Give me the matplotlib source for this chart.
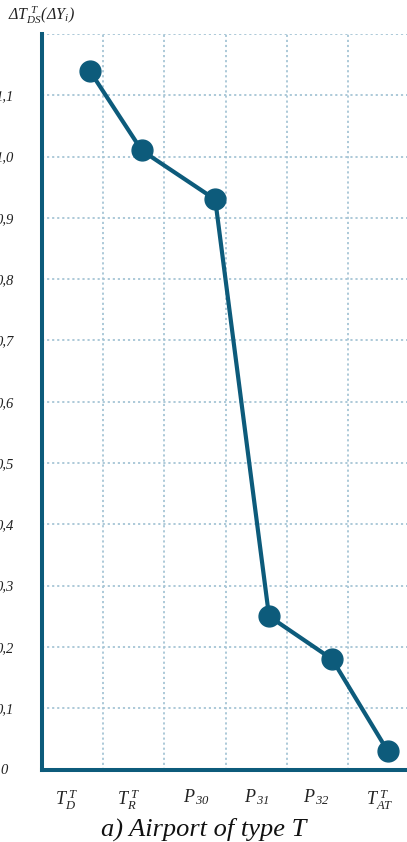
import matplotlib
matplotlib.use("Agg")
import matplotlib.pyplot as plt

# --- data -------------------------------------------------------------
categories = [r"$T_{D}^{\;T}$", r"$T_{R}^{\;T}$", r"$P_{\,30}$", r"$P_{\,31}$", r"$P_{\,32}$", r"$T_{AT}^{\;T}$"]
label_pos = [0.41, 1.42, 2.53, 3.51, 4.48, 5.52]
x_vals = [0.78, 1.63, 2.83, 3.71, 4.74, 5.65]
y_vals = [1.14, 1.01, 0.93, 0.25, 0.18, 0.03]
y_ticks = [0.0, 0.1, 0.2, 0.3, 0.4, 0.5, 0.6, 0.7, 0.8, 0.9, 1.0, 1.1]
y_tick_labels = ["0", "0,1", "0,2", "0,3", "0,4", "0,5", "0,6", "0,7", "0,8", "0,9", "1,0", "1,1"]
x_grid = [1, 2, 3, 4, 5, 6]
y_grid = [0.1, 0.2, 0.3, 0.4, 0.5, 0.6, 0.7, 0.8, 0.9, 1.0, 1.1, 1.2]
y_title = r"$\Delta T_{DS}^{\;T}(\Delta Y_{i})$"
caption = "a) Airport of type T"

# --- style ------------------------------------------------------------
plt.rcParams["font.family"] = ["Liberation Serif", "DejaVu Serif"]
plt.rcParams["font.style"] = "italic"
plt.rcParams["mathtext.fontset"] = "custom"
plt.rcParams["mathtext.rm"] = "Liberation Serif:italic"
plt.rcParams["mathtext.it"] = "Liberation Serif:italic"
plt.rcParams["mathtext.bf"] = "Liberation Serif:italic:bold"

main = "#0d5b7b"
grid_c = "#a6c5d5"

W, H = 407, 842
fig = plt.figure(figsize=(W / 100, H / 100), dpi=100)
left_px, bottom_px, top_px = 42, 769.5, 34
ax = fig.add_axes([left_px / W, (H - bottom_px) / H, (W - left_px) / W, (bottom_px - top_px) / H])
ax.set_xlim(0, (W - left_px) / 61.2)
ax.set_ylim(0, 1.2)

for gx in x_grid:
    ax.axvline(gx, color=grid_c, lw=1.3, ls=(0, (1.2, 1.6)), zorder=1)
for gy in y_grid:
    ax.axhline(gy, color=grid_c, lw=1.3, ls=(0, (1.2, 1.6)), zorder=1)

ax.plot(x_vals, y_vals, color=main, lw=3.0, marker="o", ms=15,
        markerfacecolor=main, markeredgecolor=main, zorder=3, clip_on=False)

for side in ("top", "right"):
    ax.spines[side].set_visible(False)
for side in ("left", "bottom"):
    ax.spines[side].set_color(main)
    ax.spines[side].set_linewidth(2.9)
    ax.spines[side].set_zorder(4)

ax.set_yticks(y_ticks)
ax.set_yticklabels(y_tick_labels, fontsize=10.5, color="#222222")
ax.tick_params(axis="y", length=0, pad=27)
for lab in ax.get_yticklabels():
    lab.set_horizontalalignment("center")

ax.set_xticks(label_pos)
ax.set_xticklabels(categories, fontsize=13, color="#222222")
ax.tick_params(axis="x", length=0, pad=13)

fig.text(8 / W, 1 - 20 / H, y_title, fontsize=11.5, color="#222222", ha="left", va="baseline")
fig.text(0.5, 6 / H, caption, fontsize=19, color="#111111", ha="center", va="baseline")

fig.savefig("out.png", dpi=100)
